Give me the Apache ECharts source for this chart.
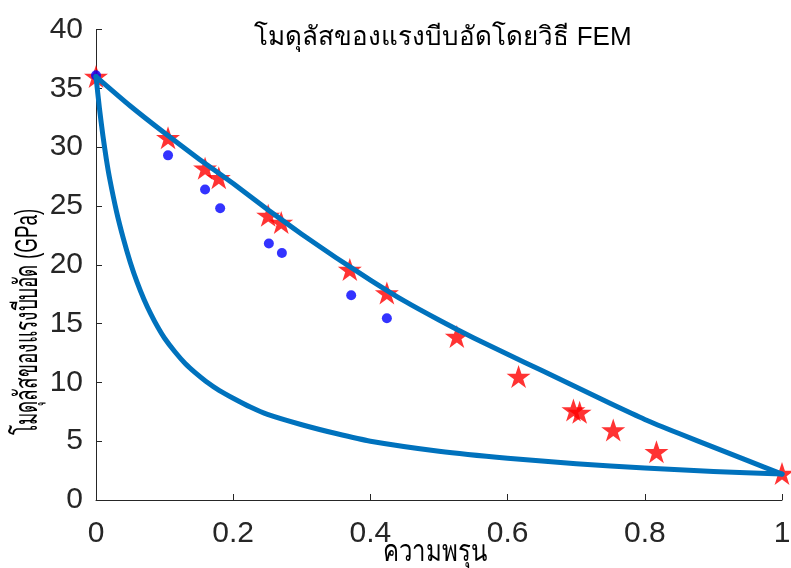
<!DOCTYPE html>
<html>
<head>
<meta charset="utf-8">
<script src="https://cdn.jsdelivr.net/npm/echarts@6/dist/echarts.min.js"></script>
<style>
html,body{margin:0;padding:0;background:#fff;}
#c{width:791px;height:568px;}
</style>
</head>
<body>
<div id="c"></div>
<script>
// ---- data ----
var titleText = 'โมดุลัสของแรงบีบอัดโดยวิธี FEM';
var xName = 'ความพรุน';
var yName = 'โมดุลัสของแรงบีบอัด (GPa)';

var upperX = [0, 0.05, 0.1, 0.15, 0.2, 0.25, 0.3, 0.35, 0.4, 0.45, 0.5, 0.55, 0.6, 0.65, 0.7, 0.75, 0.8, 0.85, 0.9, 0.95, 1.0];
var upperY = [36, 33.5, 31.2, 29.0, 26.9, 24.7, 22.6, 20.6, 18.7, 16.9, 15.3, 13.8, 12.4, 11.0, 9.6, 8.2, 6.85, 5.65, 4.5, 3.35, 2.2];

var lowerX = [0, 0.005, 0.01, 0.015, 0.02, 0.03, 0.04, 0.05, 0.06, 0.07, 0.08, 0.09, 0.1, 0.115, 0.13, 0.145, 0.16, 0.18, 0.2, 0.225, 0.25, 0.3, 0.35, 0.4, 0.5, 0.6, 0.7, 0.8, 0.9, 1.0];
var lowerY = [36, 33.3, 31.0, 29.0, 27.3, 24.5, 22.2, 20.2, 18.5, 17.05, 15.8, 14.7, 13.75, 12.6, 11.6, 10.8, 10.1, 9.3, 8.65, 7.9, 7.28, 6.4, 5.65, 5.0, 4.15, 3.55, 3.08, 2.72, 2.43, 2.2];

var starX = [0, 0.105, 0.159, 0.179, 0.251, 0.270, 0.370, 0.424, 0.526, 0.616, 0.696, 0.705, 0.754, 0.817, 1.0];
var starY = [36.0, 30.8, 28.2, 27.4, 24.2, 23.6, 19.6, 17.6, 13.9, 10.5, 7.65, 7.45, 5.95, 4.1, 2.25];

var dotX = [0, 0.105, 0.159, 0.181, 0.252, 0.271, 0.372, 0.424];
var dotY = [36.1, 29.3, 26.4, 24.8, 21.8, 21.0, 17.4, 15.45];

var xTicks = {min: 0, max: 1, interval: 0.2};
var yTicks = {min: 0, max: 40, interval: 5};

function zip(a, b) { return a.map(function (v, i) { return [v, b[i]]; }); }

var starPath = 'path://M50,0 L61.8,35.1 L98.9,35.1 L68.9,56.8 L80.3,91.9 L50,70.2 L19.7,91.9 L31.1,56.8 L1.1,35.1 L38.2,35.1 Z';
var axisColor = '#262626';
var font = "'Liberation Sans', Arial, sans-serif";

var chart = echarts.init(document.getElementById('c'), null, {renderer: 'canvas'});
chart.setOption({
  backgroundColor: '#ffffff',
  animation: false,
  title: {
    text: titleText,
    left: 438, top: 20,
    textAlign: 'center',
    textStyle: {fontSize: 26, fontWeight: 'normal', color: '#000', fontFamily: font}
  },
  grid: {left: 96, right: 9, top: 29.5, bottom: 68, containLabel: false, outerBoundsMode: 'none'},
  xAxis: {
    type: 'value', min: xTicks.min, max: xTicks.max, interval: xTicks.interval,
    axisLine: {show: true, lineStyle: {color: axisColor, width: 1}},
    axisTick: {show: true, inside: true, length: 6, lineStyle: {color: axisColor}},
    axisLabel: {fontSize: 30, color: axisColor, margin: 19, fontFamily: font},
    splitLine: {show: false}
  },
  yAxis: {
    type: 'value', min: yTicks.min, max: yTicks.max, interval: yTicks.interval,
    axisLine: {show: true, lineStyle: {color: axisColor, width: 1}},
    axisTick: {show: true, inside: true, length: 6, lineStyle: {color: axisColor}},
    axisLabel: {fontSize: 30, color: axisColor, margin: 13, fontFamily: font},
    splitLine: {show: false}
  },
  graphic: [{
    type: 'text',
    x: 28, y: 322,
    rotation: Math.PI / 2,
    scaleX: 0.59,
    style: {
      text: yName,
      fontSize: 32, fill: '#000', fontFamily: font,
      textAlign: 'center', textVerticalAlign: 'middle'
    }
  }, {
    type: 'text',
    x: 435, y: 553,
    scaleX: 0.8,
    style: {
      text: xName,
      fontSize: 30, fill: '#000', fontFamily: font,
      textAlign: 'center', textVerticalAlign: 'middle'
    }
  }],
  series: [
    {
      type: 'scatter', data: zip(starX, starY), z: 2,
      symbol: starPath, symbolSize: [24, 23],
      itemStyle: {color: '#ff0000'}
    },
    {
      type: 'scatter', data: zip(dotX, dotY), z: 3,
      symbol: 'circle', symbolSize: 10,
      itemStyle: {color: '#0000ff'}
    },
    {
      type: 'line', data: zip(upperX, upperY), z: 4,
      smooth: 0.2, showSymbol: false,
      lineStyle: {color: '#0072BD', width: 5, join: 'round', cap: 'round'}
    },
    {
      type: 'line', data: zip(lowerX, lowerY), z: 4,
      smooth: 0.2, showSymbol: false,
      lineStyle: {color: '#0072BD', width: 5, join: 'round', cap: 'round'}
    }
  ]
});
</script>
</body>
</html>
